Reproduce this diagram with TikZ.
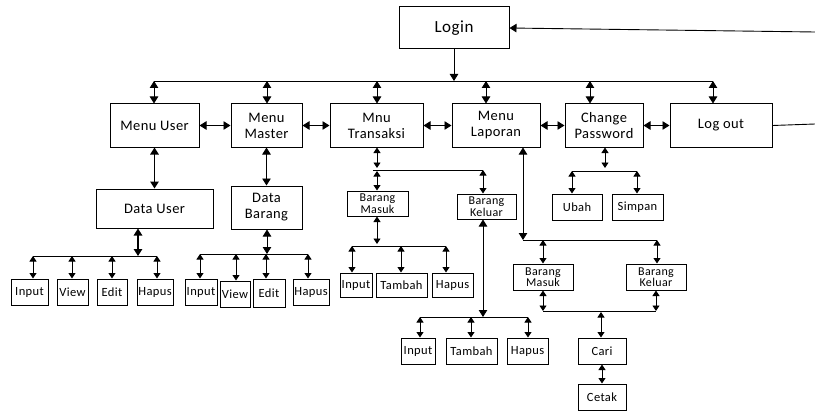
\documentclass[tikz,border=0pt]{standalone}
\usepackage{fontspec}
\setmainfont{Carlito}[LetterSpace=3]
\usetikzlibrary{arrows.meta}
\tikzset{
  box/.style={draw, line width=1pt, inner sep=1pt, align=center, text=black},
  big/.style={box, font=\fontsize{14.5}{16}\selectfont},
  sm/.style={box, font=\fontsize{12.5}{13}\selectfont},
  bb/.style={box, font=\fontsize{12}{11.5}\selectfont},
  ln/.style={line width=0.9pt},
  dbl/.style={ln, {Triangle[width=8.5pt,length=7pt]}-{Triangle[width=8.5pt,length=7pt]}},
  dbls/.style={ln, {Triangle[width=7pt,length=5.5pt]}-{Triangle[width=7pt,length=5.5pt]}},
  sgl/.style={ln, -{Triangle[width=8.5pt,length=7pt]}}
}
\begin{document}
\begin{tikzpicture}[x=1pt,y=-1pt]
\useasboundingbox (0,0) rectangle (815,412);
% top level
\node[box, font=\fontsize{17}{18}\selectfont, minimum width=110pt, minimum height=42pt] (login) at (454,28) {Login};
\node[big, minimum width=89pt, minimum height=43pt] (mu) at (154.5,125.5) {Menu User};
\node[big, minimum width=71pt, minimum height=43pt] (mm) at (266.5,125.5) {Menu\\Master};
\node[big, minimum width=93pt, minimum height=43pt] (mt) at (376.5,125.5) {Mnu\\Transaksi};
\node[big, minimum width=88pt, minimum height=43pt] (ml) at (496,125.5) {Menu\\Laporan};
\node[big, minimum width=78pt, minimum height=43pt] (cp) at (604,125.5) {Change\\Password};
\node[big, minimum width=102pt, minimum height=43pt] (lo) at (721,125.5) {Log out};
% second level
\node[big, minimum width=117pt, minimum height=39pt] (du) at (154.5,208.5) {Data User};
\node[big, minimum width=71pt, minimum height=43pt] (db) at (266.5,207.5) {Data\\Barang};
% data user children
\node[sm, minimum width=37pt, minimum height=26pt] (i1) at (29.5,292) {Input};
\node[sm, minimum width=31pt, minimum height=26pt] (v1) at (72.5,292) {View};
\node[sm, minimum width=30pt, minimum height=26pt] (e1) at (112,292) {Edit};
\node[sm, minimum width=36pt, minimum height=26pt] (h1) at (155,292) {Hapus};
% data barang children
\node[sm, minimum width=32pt, minimum height=26pt] (i2) at (201,292) {Input};
\node[sm, minimum width=30pt, minimum height=26pt] (v2) at (235,294) {View};
\node[sm, minimum width=32pt, minimum height=28pt] (e2) at (269,293) {Edit};
\node[sm, minimum width=36pt, minimum height=26pt] (h2) at (311,292) {Hapus};
% transaksi
\node[bb, minimum width=61pt, minimum height=25pt] (bm1) at (377.5,203.5) {Barang\\Masuk};
\node[bb, minimum width=59pt, minimum height=25pt] (bk1) at (486.5,206.5) {Barang\\Keluar};
\node[sm, minimum width=32pt, minimum height=24pt] (i3) at (356,285) {Input};
\node[sm, minimum width=51pt, minimum height=24pt] (t3) at (401.5,285) {Tambah};
\node[sm, minimum width=41pt, minimum height=24pt] (p3) at (452.5,285) {Hapus};
\node[sm, minimum width=34pt, minimum height=26pt] (i4) at (418,351) {Input};
\node[sm, minimum width=51pt, minimum height=26pt] (t4) at (471.5,351) {Tambah};
\node[sm, minimum width=41pt, minimum height=26pt] (p4) at (527.5,351) {Hapus};
% change password
\node[sm, minimum width=50pt, minimum height=26pt] (ub) at (577,207) {Ubah};
\node[sm, minimum width=51pt, minimum height=26pt] (sp) at (637.5,207) {Simpan};
% laporan
\node[bb, minimum width=60pt, minimum height=26pt] (bm2) at (543,277) {Barang\\Masuk};
\node[bb, minimum width=60pt, minimum height=26pt] (bk2) at (656,277) {Barang\\Keluar};
\node[sm, minimum width=48pt, minimum height=26pt] (cari) at (602,351) {Cari};
\node[sm, minimum width=48pt, minimum height=26pt] (cetak) at (602,397) {Cetak};

% ---- top bus
\coordinate (bL) at (154,81);
\coordinate (bR) at (713,81);
\coordinate (bMM) at (267,81);
\coordinate (bMT) at (377,81);
\coordinate (bML) at (486,81);
\coordinate (bCP) at (590,81);
\coordinate (bLogin) at (454,81);
\draw[ln] (bL) -- (bR);
\draw[sgl] (login.south) -- (bLogin);
\draw[dbl] (bL) -- (bL |- mu.north);
\draw[dbl] (bMM) -- (bMM |- mm.north);
\draw[dbl] (bMT) -- (bMT |- mt.north);
\draw[dbl] (bML) -- (bML |- ml.north);
\draw[dbl] (bCP) -- (bCP |- cp.north);
\draw[dbl] (bR) -- (bR |- lo.north);
% horizontal links
\draw[dbl] (mu.east) -- (mm.west);
\draw[dbl] (mm.east) -- (mt.west);
\draw[dbl] (mt.east) -- (ml.west);
\draw[dbl] (ml.east) -- (cp.west);
\draw[dbl] (cp.east) -- (lo.west);
% return line
\coordinate (eR1) at (815,124);
\coordinate (eR2) at (815,32);
\draw[ln] (lo.east) -- (eR1);
\draw[sgl] (eR2) -- (login.east);
% menu -> data
\draw[dbl, line width=1.3pt] (mu.south) -- (du.north);
\draw[dbl] (mm.south) -- (db.north);

% data user bus
\coordinate (b1) at (138,256);
\coordinate (b1a) at (33,256);
\coordinate (b1b) at (72,256);
\coordinate (b1c) at (112,256);
\coordinate (b1d) at (157,256);
\draw[dbl, line width=1.3pt] (b1 |- du.south) -- (b1);
\draw[ln] (b1a) -- (b1d);
\draw[dbls] (b1a) -- (b1a |- i1.north);
\draw[dbls] (b1b) -- (b1b |- v1.north);
\draw[dbls] (b1c) -- (b1c |- e1.north);
\draw[dbls] (b1d) -- (b1d |- h1.north);

% data barang bus
\coordinate (b2) at (267,254);
\coordinate (b2a) at (200,254);
\coordinate (b2b) at (236,254);
\coordinate (b2c) at (266,254);
\coordinate (b2d) at (308,254);
\draw[dbl] (b2 |- db.south) -- (b2);
\draw[ln] (b2a) -- (b2d);
\draw[dbls] (b2a) -- (b2a |- i2.north);
\draw[dbls] (b2b) -- (b2b |- v2.north);
\draw[dbls] (b2c) -- (b2c |- e2.north);
\draw[dbls] (b2d) -- (b2d |- h2.north);

% transaksi bus
\coordinate (b3s) at (377,168);
\coordinate (b3L) at (373,170);
\coordinate (b3a) at (377,171);
\coordinate (b3b) at (483,170);
\draw[dbls] (b3s |- mt.south) -- (b3s);
\draw[ln] (b3L) -- (b3b);
\draw[dbls] (b3a) -- (b3a |- bm1.north);
\draw[dbls] (b3b) -- (b3b |- bk1.north);

% barang masuk (transaksi) bus
\coordinate (b4s) at (377,244);
\coordinate (b4a) at (352,246);
\coordinate (b4b) at (401,246);
\coordinate (b4c) at (446,246);
\draw[dbls] (b4s |- bm1.south) -- (b4s);
\draw[ln] (b4a) -- (b4c);
\draw[dbls] (b4a) -- (b4a |- i3.north);
\draw[dbls] (b4b) -- (b4b |- t3.north);
\draw[dbls] (b4c) -- (b4c |- p3.north);

% barang keluar (transaksi) bus
\coordinate (b5s) at (483,317);
\coordinate (b5a) at (420,317);
\coordinate (b5b) at (471,317);
\coordinate (b5c) at (528,317);
\draw[dbl] (b5s |- bk1.south) -- (b5s);
\draw[ln] (b5a) -- (b5c);
\draw[dbls] (b5a) -- (b5a |- i4.north);
\draw[dbls] (b5b) -- (b5b |- t4.north);
\draw[dbls] (b5c) -- (b5c |- p4.north);

% change password bus
\coordinate (b6s) at (605,168);
\coordinate (b6a) at (572,171);
\coordinate (b6b) at (637,171);
\draw[dbls] (b6s |- cp.south) -- (b6s);
\draw[ln] (b6a) -- (b6b);
\draw[dbls] (b6a) -- (b6a |- ub.north);
\draw[dbls] (b6b) -- (b6b |- sp.north);

% laporan bus
\coordinate (b7s) at (523,240);
\coordinate (b7a) at (543,240);
\coordinate (b7b) at (657,240);
\draw[dbl] (b7s |- ml.south) -- (b7s);
\draw[ln] (b7s) -- (b7b);
\draw[dbls] (b7a) -- (b7a |- bm2.north);
\draw[dbls] (b7b) -- (b7b |- bk2.north);

% laporan lower bus
\coordinate (b8a) at (543,311);
\coordinate (b8b) at (656,311);
\coordinate (b8c) at (601,312);
\draw[dbls] (b8a |- bm2.south) -- (b8a);
\draw[dbls] (b8b |- bk2.south) -- (b8b);
\draw[ln] (b8a) -- (b8b);
\draw[dbls] (b8c) -- (b8c |- cari.north);
\draw[dbls] (cari.south) -- (cetak.north);
\end{tikzpicture}
\end{document}
